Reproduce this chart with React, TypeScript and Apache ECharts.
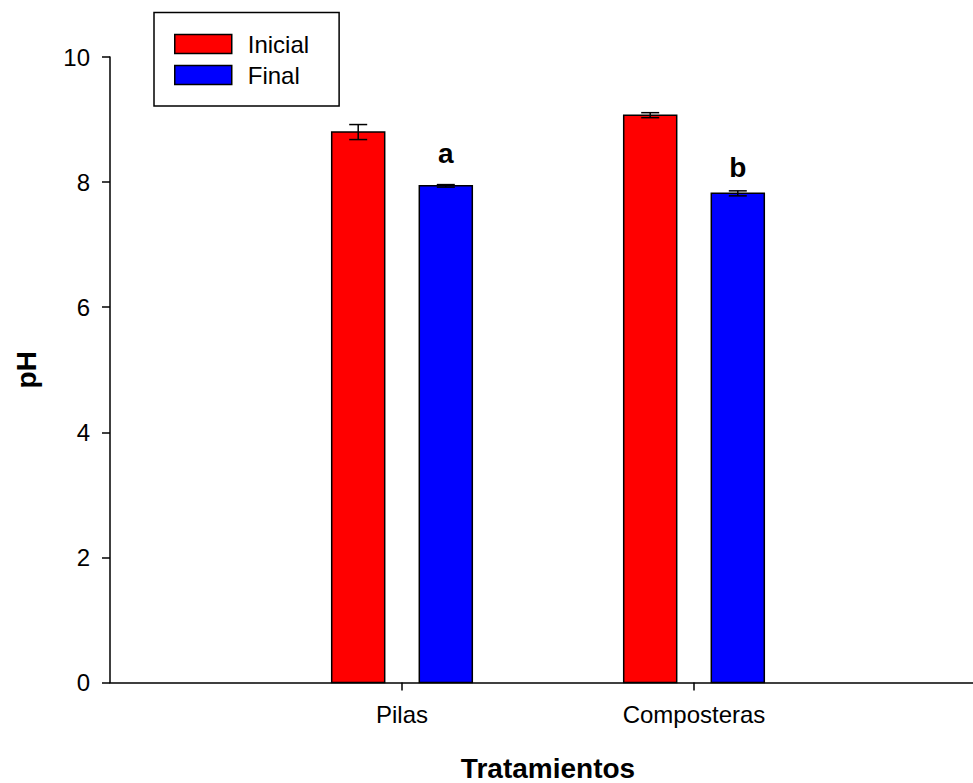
import React, { useEffect, useRef } from 'react';
import * as echarts from 'echarts';

// ---- data ----
const categories = ['Pilas', 'Composteras'];
const seriesNames = ['Inicial', 'Final'];
const inicialMeans = [8.8, 9.07];
const inicialErrors = [0.12, 0.04];
const finalMeans = [7.94, 7.82];
const finalErrors = [0.02, 0.04];
const sigLetters = ['a', 'b'];
const yTickValues = [0, 2, 4, 6, 8, 10];

// ---- styles ----
const FONT = '"Liberation Sans", Arial, Helvetica, sans-serif';
const COLORS = ['#ff0000', '#0000ff'];
const BAR_OFFSETS = [-0.15, 0.15]; // axis units relative to category position
const BAR_WIDTH = 53;
const CAP_HALF = 9;
const LETTER_GAPS = [31, 23]; // px above error-bar top (text middle)

function makeSeries(k: number, means: number[], errors: number[], letters: string[] | null) {
  return {
    type: 'custom',
    name: seriesNames[k],
    itemStyle: { color: COLORS[k] },
    data: means.map((m, i) => [i, m, errors[i]]),
    renderItem: (params: any, api: any) => {
      const idx = api.value(0);
      const val = api.value(1);
      const err = api.value(2);
      const xc = idx + 1 + BAR_OFFSETS[k];
      const top = api.coord([xc, val]);
      const base = api.coord([xc, 0]);
      const eTop = api.coord([xc, val + err]);
      const eBot = api.coord([xc, val - err]);
      const children: any[] = [
        {
          type: 'rect',
          shape: { x: top[0] - BAR_WIDTH / 2, y: top[1], width: BAR_WIDTH, height: base[1] - top[1] },
          style: { fill: COLORS[k], stroke: '#000', lineWidth: 1.5 },
        },
        {
          type: 'line',
          shape: { x1: top[0], y1: eTop[1], x2: top[0], y2: eBot[1] },
          style: { stroke: '#000', lineWidth: 1.5 },
        },
        {
          type: 'line',
          shape: { x1: top[0] - CAP_HALF, y1: eTop[1], x2: top[0] + CAP_HALF, y2: eTop[1] },
          style: { stroke: '#000', lineWidth: 1.5 },
        },
        {
          type: 'line',
          shape: { x1: top[0] - CAP_HALF, y1: eBot[1], x2: top[0] + CAP_HALF, y2: eBot[1] },
          style: { stroke: '#000', lineWidth: 1.5 },
        },
      ];
      if (letters) {
        children.push({
          type: 'text',
          x: top[0],
          y: eTop[1] - LETTER_GAPS[idx],
          style: {
            text: letters[idx],
            font: `bold 28px ${FONT}`,
            fill: '#000',
            align: 'center',
            verticalAlign: 'middle',
          },
        });
      }
      return { type: 'group', children };
    },
  };
}

export default function App() {
  const ref = useRef<HTMLDivElement>(null);
  useEffect(() => {
    if (!ref.current) return;
    const chart = echarts.init(ref.current, undefined, { renderer: 'svg' });
    chart.setOption({
      animation: false,
      backgroundColor: '#ffffff',
      grid: { left: 110, top: 57, right: -13, bottom: 100.5, containLabel: false, outerBoundsMode: 'none' },
      legend: {
        orient: 'vertical',
        left: 154,
        top: 12.5,
        padding: [19.5, 30, 19, 20],
        backgroundColor: '#fff',
        borderColor: '#000',
        borderWidth: 1.5,
        borderRadius: 0,
        itemWidth: 57,
        itemHeight: 19,
        itemGap: 7,
        icon: 'rect',
        selectedMode: false,
        textStyle: {
          fontFamily: FONT,
          fontSize: 24,
          color: '#000',
          lineHeight: 19,
          padding: [0, 0, 0, 11],
        },
        data: seriesNames.map((n, k) => ({
          name: n,
          itemStyle: { color: COLORS[k], borderColor: '#000', borderWidth: 1.5 },
        })),
      },
      xAxis: {
        type: 'value',
        min: 0,
        max: 3,
        interval: 1,
        name: 'Tratamientos',
        nameLocation: 'middle',
        nameGap: 72,
        nameTextStyle: { fontFamily: FONT, fontSize: 28, fontWeight: 'bold', color: '#000' },
        axisLine: { show: true, onZero: false, lineStyle: { color: '#000', width: 1.5 } },
        axisTick: { show: true, length: 8, customValues: [1, 2], lineStyle: { color: '#000', width: 1.5 } },
        axisLabel: {
          customValues: [1, 2],
          formatter: (v: number) => categories[Math.round(v) - 1] ?? '',
          fontFamily: FONT,
          fontSize: 24,
          color: '#000',
          margin: 20,
        },
        splitLine: { show: false },
      },
      yAxis: {
        type: 'value',
        min: yTickValues[0],
        max: yTickValues[yTickValues.length - 1],
        interval: 2,
        name: 'pH',
        nameLocation: 'middle',
        nameGap: 70,
        nameTextStyle: { fontFamily: FONT, fontSize: 28, fontWeight: 'bold', color: '#000' },
        axisLine: { show: true, lineStyle: { color: '#000', width: 1.5 } },
        axisTick: { show: true, length: 8, lineStyle: { color: '#000', width: 1.5 } },
        axisLabel: { fontFamily: FONT, fontSize: 24, color: '#000', margin: 20 },
        splitLine: { show: false },
      },
      series: [
        makeSeries(0, inicialMeans, inicialErrors, null),
        makeSeries(1, finalMeans, finalErrors, sigLetters),
      ],
    });
    return () => chart.dispose();
  }, []);
  return (
    <div
      ref={ref}
      style={{ position: 'absolute', left: 0, top: 0, width: 973, height: 783, background: '#fff' }}
    />
  );
}
